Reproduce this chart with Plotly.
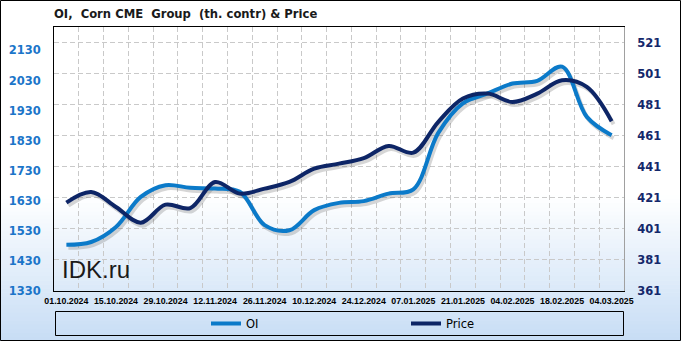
import plotly.graph_objects as go
import pandas as pd

# ---------------- data ----------------
dates = ["2024-10-01", "2024-10-08", "2024-10-15", "2024-10-22", "2024-10-29",
         "2024-11-05", "2024-11-12", "2024-11-19", "2024-11-26", "2024-12-03",
         "2024-12-10", "2024-12-17", "2024-12-24", "2024-12-31", "2025-01-07",
         "2025-01-14", "2025-01-21", "2025-01-28", "2025-02-04", "2025-02-11",
         "2025-02-18", "2025-02-25", "2025-03-04"]
oi_values = [1484, 1493, 1543, 1643, 1682, 1673, 1671, 1660, 1549, 1532,
             1599, 1623, 1629, 1654, 1668, 1855, 1954, 1987, 2020, 2029,
             2076, 1909, 1848]
price_values = [417.9, 424.7, 415.1, 405.0, 416.6, 414.4, 431.2, 423.7, 426.9, 431.2,
                439.8, 443.0, 446.6, 454.4, 450.1, 469.8, 484.9, 488.1, 482.7, 488.1,
                496.7, 492.4, 470.3]
tick_dates = ["2024-10-01", "2024-10-15", "2024-10-29", "2024-11-12", "2024-11-26",
              "2024-12-10", "2024-12-24", "2025-01-07", "2025-01-21", "2025-02-04",
              "2025-02-18", "2025-03-04"]
tick_labels = ["01.10.2024", "15.10.2024", "29.10.2024", "12.11.2024", "26.11.2024",
               "10.12.2024", "24.12.2024", "07.01.2025", "21.01.2025", "04.02.2025",
               "18.02.2025", "04.03.2025"]
oi_ticks = [1330, 1430, 1530, 1630, 1730, 1830, 1930, 2030, 2130]
price_ticks = [361, 381, 401, 421, 441, 461, 481, 501, 521]

# ---------------- geometry / style ----------------
W, H = 681, 341
ML, MR, MT, MB = 54, 57, 27, 50
PW, PH = W - ML - MR, H - MT - MB

OI_COLOR = "#0b7ac9"
PRICE_COLOR = "#0d2566"
SHADOW = "rgba(70,70,70,0.22)"

x0 = pd.Timestamp(dates[0]) - pd.Timedelta(hours=84)
x1 = pd.Timestamp(dates[-1]) + pd.Timedelta(hours=84)
oi_range = [1330, 2208]
pr_range = [361, 531]

# shadow offsets (px)
sdx, sdy = 2, 3
xspan = x1 - x0
xs0 = x0 - xspan * (sdx / PW)
xs1 = x1 - xspan * (sdx / PW)
oi_s = [oi_range[0] + (oi_range[1] - oi_range[0]) * sdy / PH,
        oi_range[1] + (oi_range[1] - oi_range[0]) * sdy / PH]
pr_s = [pr_range[0] + (pr_range[1] - pr_range[0]) * sdy / PH,
        pr_range[1] + (pr_range[1] - pr_range[0]) * sdy / PH]

fig = go.Figure()
# shadows
fig.add_trace(go.Scatter(x=dates, y=oi_values, xaxis="x", yaxis="y", mode="lines",
                         line=dict(color=SHADOW, width=4, shape="spline", smoothing=1),
                         showlegend=False, hoverinfo="skip"))
fig.add_trace(go.Scatter(x=dates, y=price_values, xaxis="x", yaxis="y2", mode="lines",
                         line=dict(color=SHADOW, width=4, shape="spline", smoothing=1),
                         showlegend=False, hoverinfo="skip"))
# main lines
fig.add_trace(go.Scatter(x=dates, y=oi_values, xaxis="x2", yaxis="y3", mode="lines", name="OI",
                         line=dict(color=OI_COLOR, width=4, shape="spline", smoothing=1)))
fig.add_trace(go.Scatter(x=dates, y=price_values, xaxis="x2", yaxis="y4", mode="lines", name="Price",
                         line=dict(color=PRICE_COLOR, width=4, shape="spline", smoothing=1)))

hidden = dict(visible=False, showgrid=False, zeroline=False, fixedrange=True)

fig.update_layout(
    width=W, height=H,
    margin=dict(l=ML, r=MR, t=MT, b=MB, autoexpand=False),
    paper_bgcolor="white", plot_bgcolor="rgba(0,0,0,0)",
    showlegend=True,
    xaxis=dict(type="date", range=[xs0, xs1], **hidden),
    yaxis=dict(range=oi_s, **hidden),
    yaxis2=dict(range=pr_s, overlaying="y", **hidden),
    xaxis2=dict(type="date", range=[x0, x1], overlaying="x", side="bottom",
                tickmode="array", tickvals=tick_dates, ticktext=tick_labels, tickangle=0,
                showgrid=False, zeroline=False, ticks="",
                showline=True, linecolor="black", linewidth=1, mirror=True,
                tickfont=dict(family="Liberation Sans", size=8.8, color="black", weight="bold"),
                ticklabelstandoff=1,
                minor=dict(tick0="2024-10-04 12:00", dtick=7 * 24 * 3600 * 1000,
                           showgrid=True, gridcolor="#c9c9c9", gridwidth=1, griddash="5px,3px",
                           ticks=""),
                fixedrange=True),
    yaxis3=dict(range=oi_range, overlaying="y", side="left",
                tickmode="array", tickvals=oi_ticks,
                showgrid=False, zeroline=False, ticks="",
                showline=True, linecolor="black", linewidth=1,
                tickfont=dict(family="DejaVu Sans", size=11.5, color="#1b75c9", weight="bold"),
                ticklabelstandoff=10, fixedrange=True),
    yaxis4=dict(range=pr_range, overlaying="y", side="right",
                tickmode="array", tickvals=price_ticks,
                showgrid=True, gridcolor="#c9c9c9", gridwidth=1, griddash="5px,3px",
                zeroline=False, ticks="",
                showline=True, linecolor="#a0a0a0", linewidth=1,
                tickfont=dict(family="DejaVu Sans", size=11.5, color="#14286b", weight="bold"),
                ticklabelstandoff=10, fixedrange=True),
    legend=dict(orientation="h", x=(206 - ML) / PW, xanchor="left",
                y=-(323.5 - MT - PH) / PH, yanchor="middle",
                bgcolor="rgba(0,0,0,0)", borderwidth=0,
                entrywidth=155, entrywidthmode="pixels",
                font=dict(family="DejaVu Sans", size=11.5, color="black")),
)

# background gradient (decoration) in paper coordinates
def px_x(p):
    return (p - ML) / PW

def px_y(p):
    return 1 - (p - MT) / PH

shapes = []
g_top, g_bot = 195, 341
n = 36
c0 = (255, 255, 255)
c1 = (199, 221, 245)
for i in range(n):
    ya = g_top + (g_bot - g_top) * i / n
    yb = g_top + (g_bot - g_top) * (i + 1) / n
    t = (i + 0.5) / n
    col = "rgb(%d,%d,%d)" % tuple(round(c0[k] + (c1[k] - c0[k]) * t) for k in range(3))
    shapes.append(dict(type="rect", xref="paper", yref="paper", layer="below",
                       x0=px_x(0), x1=px_x(W), y0=px_y(yb + 0.5), y1=px_y(ya),
                       fillcolor=col, line=dict(width=0)))
# legend box
shapes.append(dict(type="rect", xref="paper", yref="paper", layer="above",
                   x0=px_x(55.5), x1=px_x(623.5), y0=px_y(335.5), y1=px_y(311.5),
                   line=dict(color="black", width=1), fillcolor="rgba(0,0,0,0)"))
# outer border
shapes.append(dict(type="rect", xref="paper", yref="paper", layer="above",
                   x0=px_x(0.5), x1=px_x(680.5), y0=px_y(340.5), y1=px_y(0.5),
                   line=dict(color="black", width=1), fillcolor="rgba(0,0,0,0)"))
fig.update_layout(shapes=shapes)

fig.add_annotation(text="OI,\u00a0 Corn CME\u00a0 Group\u00a0 (th. contr) &amp; Price",
                   xref="paper", yref="paper", x=px_x(52), y=px_y(14.5),
                   xanchor="left", yanchor="middle", showarrow=False,
                   font=dict(family="DejaVu Sans", size=11.6, color="#1a1a1a", weight="bold"))
fig.add_annotation(text="IDK.ru", xref="paper", yref="paper", x=px_x(60), y=px_y(269),
                   xanchor="left", yanchor="middle", showarrow=False,
                   font=dict(family="Liberation Sans", size=24, color="#1a1a1a"))

fig.write_html("out.html")
